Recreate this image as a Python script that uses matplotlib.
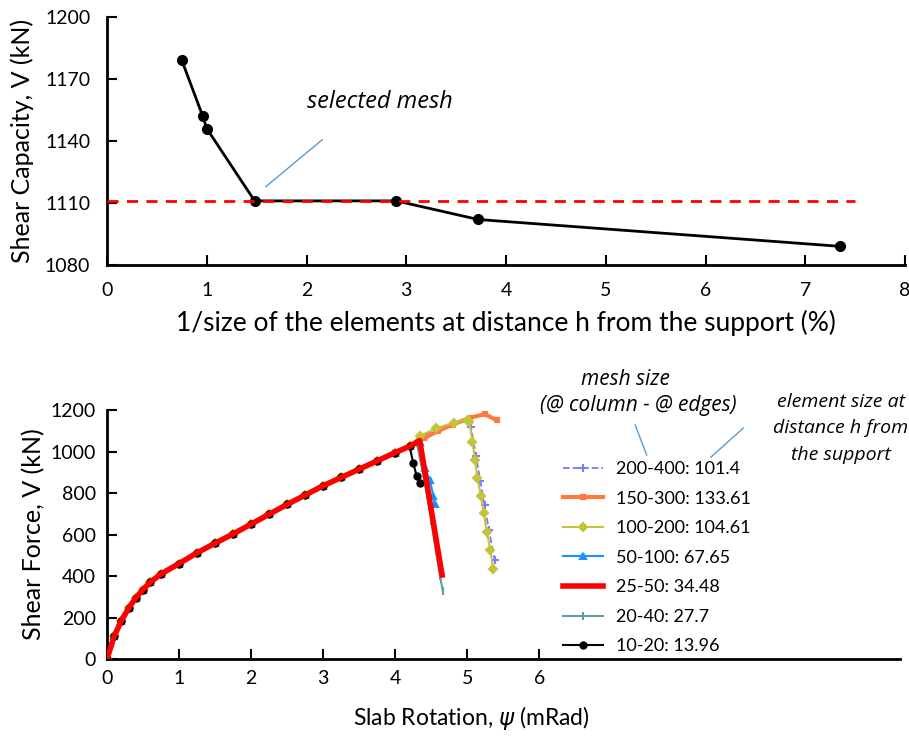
import matplotlib.pyplot as plt

plt.rcParams['font.family'] = ['Lato', 'DejaVu Sans']

# top chart: mesh convergence
inv_size = [0.75, 0.96, 1.0, 1.48, 2.9, 3.72, 7.35]
capacity = [1179, 1152, 1146, 1111, 1111, 1102, 1089]
selected_v = 1111

# bottom chart: shear force vs slab rotation
base_rot = [0, 0.1, 0.2, 0.3, 0.4, 0.5, 0.6, 0.75, 1.0, 1.25, 1.5, 1.75, 2.0,
            2.25, 2.5, 2.75, 3.0, 3.25, 3.5, 3.75, 4.0, 4.2]
base_v = [0, 110, 185, 245, 295, 335, 370, 410, 460, 512, 558, 603, 650,
          698, 745, 790, 835, 875, 915, 955, 995, 1025]

tails = {
    '200-400: 101.4': ([4.34, 4.57, 4.81, 5.0, 5.05, 5.12, 5.18, 5.24, 5.3, 5.38],
                       [1070, 1108, 1136, 1145, 1120, 980, 860, 740, 620, 477]),
    '150-300: 133.61': ([4.4, 4.6, 4.8, 5.04, 5.24, 5.41],
                        [1064, 1100, 1130, 1163, 1180, 1151]),
    '100-200: 104.61': ([4.34, 4.57, 4.81, 5.01, 5.03, 5.07, 5.11, 5.14, 5.19, 5.23, 5.27, 5.32, 5.36],
                        [1075, 1112, 1139, 1151, 1143, 1048, 960, 872, 785, 702, 614, 525, 434]),
    '50-100: 67.65': ([4.35, 4.41, 4.48, 4.53, 4.55],
                      [1045, 920, 865, 785, 745]),
    '25-50: 34.48': ([4.34, 4.65], [1053, 405]),
    '20-40: 27.7': ([4.3, 4.37, 4.44, 4.5, 4.56, 4.62, 4.66],
                    [1040, 920, 793, 665, 530, 402, 330]),
    '10-20: 13.96': ([4.25, 4.3, 4.35],
                     [944, 880, 848]),
}

styles = {
    '200-400: 101.4': dict(color='#7a7aff', ls='--', marker='+', ms=6, lw=1.3, z=2),
    '150-300: 133.61': dict(color='#ff7a3c', ls='-', marker='s', ms=3, lw=3, z=2),
    '100-200: 104.61': dict(color='#c4c43a', ls='-', marker='D', ms=4.5, lw=1.5, z=3),
    '50-100: 67.65': dict(color='#1e8fff', ls='-', marker='^', ms=5, lw=1.5, z=3),
    '25-50: 34.48': dict(color='#ff0000', ls='-', marker=None, lw=4, z=6),
    '20-40: 27.7': dict(color='#5f9ea0', ls='-', marker='|', ms=6, lw=1.5, z=4),
    '10-20: 13.96': dict(color='black', ls='-', marker='o', ms=4.5, lw=1.5, z=5),
}

fig = plt.figure(figsize=(9.09, 7.38), dpi=100)

# ---- top chart
ax1 = fig.add_axes([0.1177, 0.641, 0.878, 0.336])
ax1.plot(inv_size, capacity, color='black', lw=2, marker='o', ms=7, zorder=3)
ax1.plot([0, 7.5], [selected_v, selected_v], color='red', ls=(0, (4, 3)), lw=2, zorder=4)
ax1.annotate('', xy=(1.57, 1117), xytext=(2.18, 1141.5),
             arrowprops=dict(arrowstyle='-', color='#5b9bd5', lw=1))
ax1.text(2.74, 1159, 'selected mesh', style='italic', fontsize=17,
         ha='center', va='center', family=['Open Sans', 'DejaVu Sans'])
ax1.set_xlim(0, 8)
ax1.set_ylim(1080, 1200)
ax1.set_xticks(range(9))
ax1.set_yticks([1080, 1110, 1140, 1170, 1200])
ax1.set_xlabel('1/size of the elements at distance h from the support (%)',
               fontsize=19, labelpad=8)
ax1.set_ylabel('Shear Capacity, V (kN)', fontsize=18, labelpad=8)

# ---- bottom chart
ax2 = fig.add_axes([0.1177, 0.107, 0.872, 0.3374])
for name, (tx, tv) in tails.items():
    st = styles[name]
    rot = base_rot + tx
    val = base_v + tv
    ax2.plot(rot, val, label=name, color=st['color'], ls=st['ls'], lw=st['lw'],
             marker=st['marker'], ms=st.get('ms', 0), mew=1.5, zorder=st['z'])
ax2.set_xlim(0, 11)
ax2.set_ylim(0, 1200)
ax2.set_xticks(range(7))
ax2.set_yticks(range(0, 1201, 200))
ax2.set_xlabel(r'Slab Rotation, $\psi$ (mRad)', fontsize=16.5)
ax2.xaxis.set_label_coords(0.459, -0.18)
ax2.set_ylabel('Shear Force, V (kN)', fontsize=18)

ax2.legend(loc='upper left', bbox_to_anchor=(0.555, 0.86), frameon=False,
           fontsize=13, handlelength=2.2, handletextpad=0.7, labelspacing=0.75)

ital = dict(style='italic', ha='center', va='center', clip_on=False,
            family=['Open Sans', 'DejaVu Sans'])
ax2.text(7.19, 1345, 'mesh size', fontsize=15, **ital)
ax2.text(7.37, 1224, '(@ column - @ edges)', fontsize=15, **ital)
ax2.text(10.18, 1239, 'element size at', fontsize=14, **ital)
ax2.text(10.18, 1113, 'distance h from', fontsize=14, **ital)
ax2.text(10.18, 983, 'the support', fontsize=14, **ital)
ax2.plot([7.33, 7.49], [1128, 983], color='#5b9bd5', lw=1, clip_on=False)
ax2.plot([8.83, 8.38], [1113, 973], color='#5b9bd5', lw=1, clip_on=False)

for ax in (ax1, ax2):
    ax.spines['top'].set_visible(False)
    ax.spines['right'].set_visible(False)
    ax.spines['left'].set_linewidth(2)
    ax.spines['bottom'].set_linewidth(2)
    ax.tick_params(direction='in', length=7, width=1.5, labelsize=14)
ax1.tick_params(pad=12)
ax2.tick_params(pad=8)

fig.savefig('out.png', dpi=100)
